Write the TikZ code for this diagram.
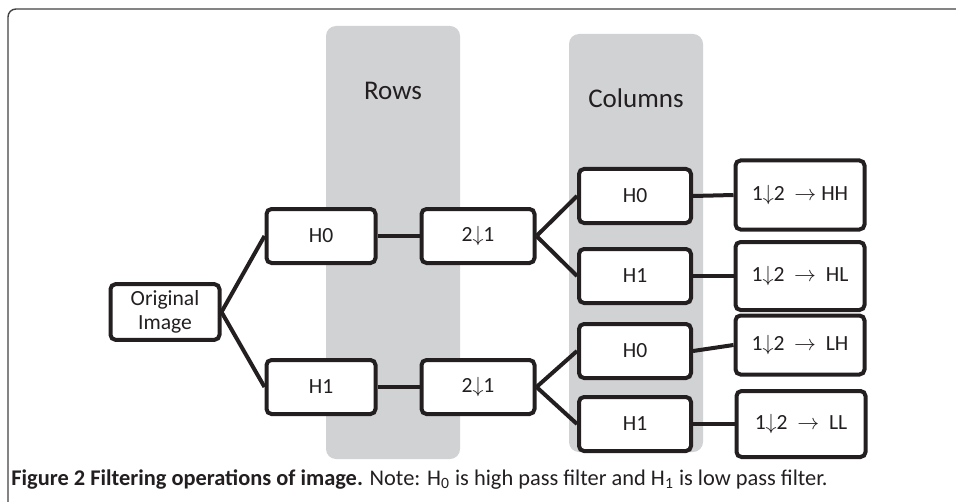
\documentclass[tikz,border=0pt]{standalone}
\usepackage{fontspec}
\setmainfont{Carlito}
\usetikzlibrary{positioning}
\definecolor{ink}{HTML}{231F20}
\definecolor{band}{HTML}{D1D2D4}
\newcommand{\dn}{\ensuremath{\downarrow}}
\newcommand{\ra}{\ensuremath{\rightarrow}}

\begin{document}
\begin{tikzpicture}[x=0.5pt,y=-0.5pt,
  filt/.style={draw=ink,line width=2pt,rounded corners=2.5pt,fill=white,text=ink,minimum width=54.5pt,minimum height=27pt,font=\fontsize{10.8}{11.8}\selectfont,align=center},
  outb/.style={filt,minimum width=64.5pt},
  link/.style={draw=ink,line width=2pt},
  lane/.style={fill=band,rounded corners=5pt}]
\useasboundingbox (0,0) rectangle (956,502);
% frame
\draw[ink!85,line width=0.7pt,rounded corners=4pt](8,502)--(8,9)--(956,9);
% shaded lanes
\fill[lane](326,26) rectangle (460,459);
\fill[lane](569,34) rectangle (703,452);
\node[text=ink,font=\fontsize{13.5}{15}\selectfont] at (393,91) {Rows};
\node[text=ink,font=\fontsize{13.5}{15}\selectfont] at (636,98) {Columns};
% filters
\node(O)[filt] at (165,312) {Original\\Image};
\node(RH0)[filt] at (321,236) {H0};
\node(RH1)[filt] at (321,387) {H1};
\node(D1)[filt,minimum width=56.5pt] at (478,236) {2\dn1};
\node(D2)[filt,minimum width=56.5pt] at (478,387) {2\dn1};
\node(CH0a)[filt,minimum width=56pt] at (635,196) {H0};
\node(CH1a)[filt,minimum width=56pt] at (635,276) {H1};
\node(CH0b)[filt,minimum width=56pt] at (635,351) {H0};
\node(CH1b)[filt,minimum width=56pt] at (635,424) {H1};
% outputs
\node(HH)[outb,minimum height=34.5pt] at (800,195) {1\dn2 \ \ra\ HH};
\node(HL)[outb,minimum height=34pt] at (800,276) {1\dn2 \ \ra\ \ HL};
\node(LH)[outb,minimum height=29.5pt] at (800,345) {1\dn2 \ \ra\ \ LH};
\node(LL)[outb,minimum height=33pt] at (801,424) {1\dn2 \ \ra\ \ LL};
\draw[link](O.east)--(RH0.west);
\draw[link](O.east)--(RH1.west);
\draw[link](RH0)--(D1);
\draw[link](RH1)--(D2);
\draw[link](D1.east)--(CH0a.west);
\draw[link](D1.east)--(CH1a.west);
\draw[link](D2.east)--(CH0b.west);
\draw[link](D2.east)--(CH1b.west);
\draw[link](CH0a.east)--(HH.west);
\draw[link](CH1a.east)--(HL.west);
\draw[link](CH0b.east)--(LH.west);
\draw[link](CH1b.east)--(LL.west);
% caption
\node(cap)[anchor=base west,inner sep=0pt,text=ink,font=\fontsize{11.2}{13}\selectfont] at (11,485)
  {\textbf{Figure 2 Filtering operations of image.} Note: H\textsubscript{0} is high pass filter and H\textsubscript{1} is low pass filter.};
\end{tikzpicture}
\end{document}
